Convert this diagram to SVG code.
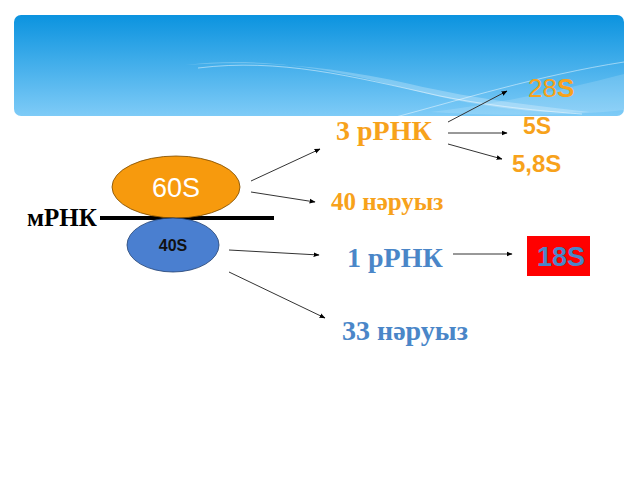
<svg xmlns="http://www.w3.org/2000/svg" width="640" height="480" viewBox="0 0 640 480">
<defs>
<linearGradient id="sky" x1="0" y1="0" x2="0" y2="1">
<stop offset="0" stop-color="#0b93df"/>
<stop offset="1" stop-color="#7ecbf7"/>
</linearGradient>
<marker id="ah" viewBox="0 0 10 10" refX="9" refY="5" markerWidth="6" markerHeight="6" orient="auto" markerUnits="userSpaceOnUse">
<path d="M0,1 L10,5 L0,9 Z" fill="#000"/>
</marker>
<style>
.c{stroke:#333;stroke-width:1;fill:none;marker-end:url(#ah)}
.tr{font-family:"Liberation Serif","Times New Roman",serif;font-weight:bold}
.ar{font-family:"Liberation Sans",Arial,sans-serif}
.or{fill:#f7a21b}
.bl{fill:#4a86c8}
</style>
</defs>
<g id="banner">
<rect x="14" y="15" width="610" height="101" rx="7" fill="url(#sky)"/>
<path d="M185,65 C260,56 330,68 420,92 C500,112 560,114 590,112 C520,104 470,98 410,84 C330,66 260,60 185,65 Z" fill="#fff" opacity="0.25"/>
<path d="M198,68 C280,58 350,76 440,96 C500,108 555,112 582,114" stroke="#fff" stroke-width="0.8" fill="none" opacity="0.6"/>
<path d="M392,118 C460,100 540,75 624,62" stroke="#fff" stroke-width="0.8" fill="none" opacity="0.6"/>
<path d="M430,112 C500,104 570,88 624,74 L624,110 C570,116 490,116 430,112 Z" fill="#fff" opacity="0.15"/>
</g>
<g id="mrna">
<line x1="100" y1="218" x2="274" y2="218" stroke="#000" stroke-width="4"/>
<text x="27" y="226" class="tr" font-size="25" fill="#000">мРНК</text>
</g>
<g id="n60S">
<ellipse cx="176" cy="187" rx="64" ry="31" fill="#f79a0d" stroke="#7a4a00" stroke-width="0.8"/>
<text x="176" y="197" class="ar" font-size="27" fill="#fff" text-anchor="middle">60S</text>
</g>
<g id="n40S">
<ellipse cx="173" cy="245" rx="46" ry="27" fill="#4a7fd0" stroke="#1f3f70" stroke-width="0.8"/>
<text x="173" y="251" class="ar" font-size="16" font-weight="bold" fill="#111" text-anchor="middle">40S</text>
</g>
<g id="n3rRNK"><text x="336" y="140" class="tr or" font-size="28">3 рРНК</text></g>
<g id="n28S"><text x="528" y="97" class="ar or" font-size="26">28<tspan font-weight="bold">S</tspan></text></g>
<g id="n5S"><text x="523" y="134" class="ar or" font-size="23" font-weight="bold">5S</text></g>
<g id="n58S"><text x="512" y="172" class="ar or" font-size="24" font-weight="bold">5,8S</text></g>
<g id="n40p"><text x="331" y="210" class="tr or" font-size="25">40 нәруыз</text></g>
<g id="n1rRNK"><text x="347" y="267" class="tr bl" font-size="28">1 рРНК</text></g>
<g id="n33p"><text x="342" y="340" class="tr bl" font-size="28">33 нәруыз</text></g>
<g id="n18S">
<rect x="527" y="236" width="63" height="40" fill="#ff0000"/>
<text x="561" y="266" class="ar bl" font-size="27" font-weight="bold" text-anchor="middle">18S</text>
</g>
<g id="connectors">
<line class="c" x1="448" y1="122" x2="507" y2="91"/>
<line class="c" x1="448" y1="133" x2="507" y2="133"/>
<line class="c" x1="448" y1="144" x2="502" y2="159"/>
<line class="c" x1="251" y1="181" x2="320" y2="149"/>
<line class="c" x1="251" y1="192" x2="315" y2="202"/>
<line class="c" x1="229" y1="250" x2="319" y2="255"/>
<line class="c" x1="229" y1="272" x2="325" y2="318"/>
<line class="c" x1="453" y1="254" x2="512" y2="254"/>
</g>
</svg>
